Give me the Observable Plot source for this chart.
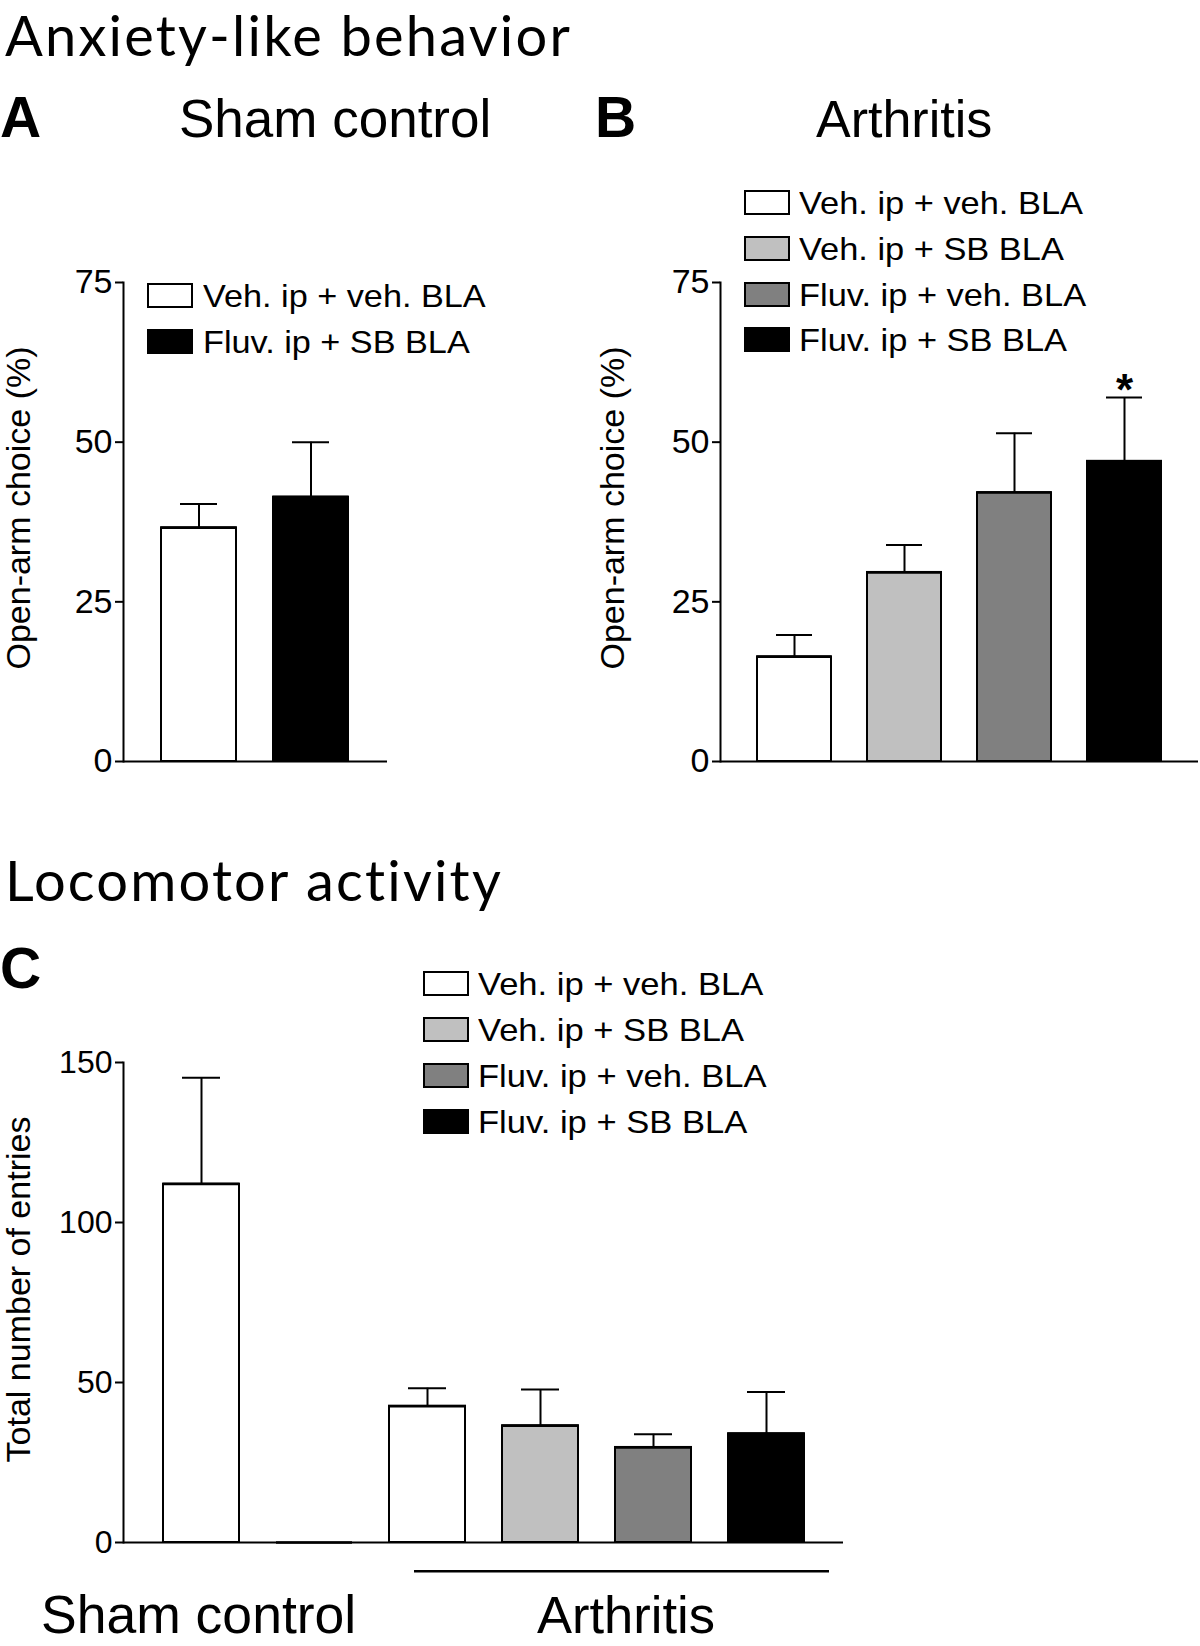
<!DOCTYPE html>
<html>
<head>
<meta charset="utf-8">
<script src="https://cdn.jsdelivr.net/npm/d3@7"></script>
<script src="https://cdn.jsdelivr.net/npm/@observablehq/plot@0.6"></script>
<style>
  html, body { margin: 0; padding: 0; background: #fff; }
  #root { position: relative; width: 1200px; height: 1646px; overflow: hidden; background: #fff;
          font-family: 'Liberation Sans', Arial, Helvetica, sans-serif; color: #000; }
  .panel { position: absolute; }
  .panel svg { overflow: visible; }
  .panel svg [aria-label="y-axis tick"] { stroke-width: 2; }
  .panel svg [aria-label="frame"] { stroke-width: 2; }
  .legend { position: absolute; }
  .leg-row { position: absolute; left: 0; }
  .swatch { position: absolute; left: 0; top: 0; width: 46px; height: 25px; box-sizing: border-box; border: 2px solid #000; }
  .leg-text { position: absolute; top: -3px; white-space: nowrap; font-size: 32px; line-height: 1; transform-origin: left center; }
  #overlay { position: absolute; left: 0; top: 0; pointer-events: none; }
</style>
</head>
<body>
<div id="root"></div>
<script>
// ---------------- data ----------------
const treatments = ["Veh. ip + veh. BLA", "Veh. ip + SB BLA", "Fluv. ip + veh. BLA", "Fluv. ip + SB BLA"];
const palette = ["#ffffff", "#c0c0c0", "#808080", "#000000"];

// Panel A: Sham control, open-arm choice (%)
const treatmentsA = ["Veh. ip + veh. BLA", "Fluv. ip + SB BLA"];
const meansA = [36.6, 41.4];
const upperA = [40.3, 50.0];

// Panel B: Arthritis, open-arm choice (%)
const treatmentsB = ["Veh. ip + veh. BLA", "Veh. ip + SB BLA", "Fluv. ip + veh. BLA", "Fluv. ip + SB BLA"];
const meansB = [16.4, 29.6, 42.1, 47.0];
const upperB = [19.8, 33.9, 51.4, 57.0];
const signifB = ["", "", "", "*"];

// Panel C: total number of entries
const groupsC = ["Sham control", "Sham control", "Arthritis", "Arthritis", "Arthritis", "Arthritis"];
const treatmentsC = ["Veh. ip + veh. BLA", "Fluv. ip + SB BLA", "Veh. ip + veh. BLA", "Veh. ip + SB BLA", "Fluv. ip + veh. BLA", "Fluv. ip + SB BLA"];
const meansC = [112.0, 0, 42.6, 36.5, 29.7, 34.0];
const upperC = [145.2, null, 48.2, 47.8, 33.8, 47.0];

const ticksOpen = [0, 25, 50, 75];
const ticksEntries = [0, 50, 100, 150];
const yLabelOpen = "Open-arm choice (%)";
const yLabelEntries = "Total number of entries";

// ---------------- helpers ----------------
function rows(groups, treats, means, uppers, sig) {
  return treats.map((t, i) => ({
    key: (groups ? groups[i] : "") + "|" + t,
    group: groups ? groups[i] : "",
    treatment: t,
    mean: means[i],
    upper: uppers[i],
    sig: sig ? sig[i] : ""
  }));
}

const FONT = "'Liberation Sans', Arial, Helvetica, sans-serif";

function barPanel({data, width, height, marginLeft, marginRight, marginTop, marginBottom,
                   yDomain, yTicks, yLabel, labelDx, labelDy, tickFont, extra = []}) {
  const withErr = data.filter(d => d.upper != null);
  return Plot.plot({
    width, height, marginLeft, marginRight, marginTop, marginBottom,
    style: {fontFamily: FONT, fontSize: tickFont + "px", color: "#000", background: "transparent", overflow: "visible"},
    x: {domain: data.map(d => d.key), axis: null, paddingInner: 0.33, paddingOuter: 0.335},
    y: {domain: yDomain, ticks: yTicks, tickSize: 8, tickPadding: 3, label: null, line: true},
    color: {domain: treatments, range: palette},
    marks: [
      Plot.barY(data, {x: "key", y: "mean", fill: "treatment", stroke: "#000", strokeWidth: 2}),
      Plot.tickY(data, {x: "key", y: "mean", stroke: "#000", strokeWidth: 2.5}),
      Plot.ruleX(withErr, {x: "key", y1: "mean", y2: "upper", stroke: "#000", strokeWidth: 2}),
      Plot.tickY(withErr, {x: "key", y: "upper", inset: 19, stroke: "#000", strokeWidth: 2}),
      Plot.ruleY([0], {stroke: "#000", strokeWidth: 2}),
      Plot.text([yLabel], {frameAnchor: "left", rotate: -90, dx: labelDx, dy: labelDy,
                           fontSize: 34, lineAnchor: "middle", textAnchor: "middle"}),
      ...extra
    ]
  });
}

function place(node, left, top) {
  const d = document.createElement("div");
  d.className = "panel";
  d.style.left = left + "px";
  d.style.top = top + "px";
  d.appendChild(node);
  document.getElementById("root").appendChild(d);
}

function legend(items, left, top, textLeft, spacing, stretch) {
  const L = document.createElement("div");
  L.className = "legend";
  L.style.left = left + "px";
  L.style.top = top + "px";
  items.forEach((t, i) => {
    const r = document.createElement("div");
    r.className = "leg-row";
    r.style.top = (i * spacing) + "px";
    const s = document.createElement("div");
    s.className = "swatch";
    s.style.background = palette[treatments.indexOf(t)];
    const tx = document.createElement("span");
    tx.className = "leg-text";
    tx.style.left = textLeft + "px";
    tx.style.transform = "scaleX(" + stretch + ")";
    tx.textContent = t;
    r.appendChild(s);
    r.appendChild(tx);
    L.appendChild(r);
  });
  document.getElementById("root").appendChild(L);
}

// ---------------- panels ----------------
const dataA = rows(null, treatmentsA, meansA, upperA);
const dataB = rows(null, treatmentsB, meansB, upperB, signifB);
const dataC = rows(groupsC, treatmentsC, meansC, upperC);

const plotA = barPanel({
  data: dataA, width: 420, height: 530, marginLeft: 123, marginRight: 33, marginTop: 32, marginBottom: 19,
  yDomain: [0, 75], yTicks: ticksOpen, yLabel: yLabelOpen, labelDx: -104, labelDy: -14, tickFont: 34
});
place(plotA, 0, 250);

const plotB = barPanel({
  data: dataB, width: 610, height: 530, marginLeft: 130, marginRight: 2, marginTop: 32, marginBottom: 19,
  yDomain: [0, 75], yTicks: ticksOpen, yLabel: yLabelOpen, labelDx: -107, labelDy: -14, tickFont: 34,
  extra: [
    Plot.text(dataB.filter(d => d.sig), {x: "key", y: "upper", text: "sig", dy: 8, lineAnchor: "bottom",
                                         fontSize: 44, fontWeight: "bold"})
  ]
});
place(plotB, 590, 250);

const arthritisKeys = dataC.filter(d => d.group === "Arthritis").map(d => d.key);
const plotC = barPanel({
  data: dataC, width: 870, height: 600, marginLeft: 123, marginRight: 27, marginTop: 62, marginBottom: 58,
  yDomain: [0, 150], yTicks: ticksEntries, yLabel: yLabelEntries, labelDx: -104, labelDy: -13, tickFont: 32,
  extra: [
    Plot.ruleY([{x1: arthritisKeys[0], x2: arthritisKeys[arthritisKeys.length - 1], y: -9}],
               {x1: "x1", x2: "x2", y: "y", dx: 25, stroke: "#000", strokeWidth: 2.5})
  ]
});
place(plotC, 0, 1000);

// ---------------- legends ----------------
legend(treatmentsA, 147, 283, 55.5, 45.6, 1.07);
legend(treatments, 744, 190, 54.5, 45.8, 1.075);
legend(treatments, 423, 971, 55, 45.9, 1.08);

// ---------------- titles (text overlay) ----------------
const svgNS = "http://www.w3.org/2000/svg";
const ov = document.createElementNS(svgNS, "svg");
ov.setAttribute("id", "overlay");
ov.setAttribute("width", 1200);
ov.setAttribute("height", 1646);
const TITLEFONT = "Lato, 'Open Sans', sans-serif";
const titles = [
  {text: "Anxiety-like behavior", x: 5, y: 56, size: 56, family: TITLEFONT, weight: 400, ls: 2.2},
  {text: "Locomotor activity", x: 5, y: 901, size: 56, family: TITLEFONT, weight: 400, ls: 2.2},
  {text: "A", x: 0, y: 137, size: 57, family: FONT, weight: 700, ls: 0},
  {text: "B", x: 595, y: 137, size: 57, family: FONT, weight: 700, ls: 0},
  {text: "C", x: 0, y: 988, size: 57, family: FONT, weight: 700, ls: 0},
  {text: "Sham control", x: 179, y: 137, size: 53, family: FONT, weight: 400, ls: 0},
  {text: "Arthritis", x: 816, y: 137, size: 52, family: FONT, weight: 400, ls: 0},
  {text: "Sham control", x: 41, y: 1633, size: 53.5, family: FONT, weight: 400, ls: 0},
  {text: "Arthritis", x: 537, y: 1633, size: 52.5, family: FONT, weight: 400, ls: 0}
];
titles.forEach(t => {
  const el = document.createElementNS(svgNS, "text");
  el.setAttribute("x", t.x);
  el.setAttribute("y", t.y);
  el.setAttribute("font-size", t.size);
  el.setAttribute("font-family", t.family);
  el.setAttribute("font-weight", t.weight);
  if (t.ls) el.setAttribute("letter-spacing", t.ls);
  el.setAttribute("fill", "#000");
  el.textContent = t.text;
  ov.appendChild(el);
});
document.getElementById("root").appendChild(ov);
</script>
</body>
</html>
